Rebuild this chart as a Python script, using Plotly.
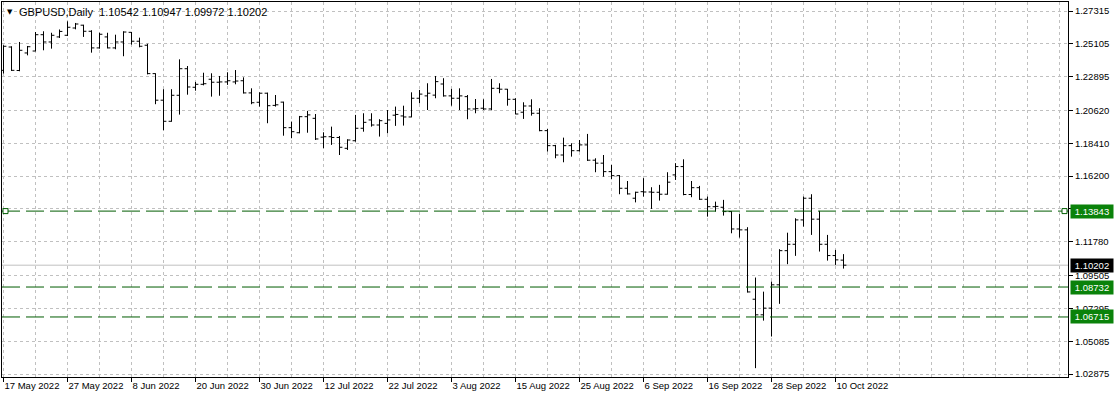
import pandas as pd
import plotly.graph_objects as go

# ---- data -------------------------------------------------------------
symbol_title = "GBPUSD,Daily"
dates = [d.strftime("%Y-%m-%d") for d in pd.bdate_range("2022-05-17", "2022-10-11")]

opens = [1.2332, 1.2489, 1.2331, 1.2449, 1.2462, 1.2572, 1.2523, 1.2557, 1.2568, 1.2617,
         1.2636, 1.2595, 1.2483, 1.2557, 1.2483, 1.2523, 1.2588, 1.2528, 1.2501, 1.2310,
         1.2131, 1.1989, 1.2164, 1.2343, 1.2218, 1.2238, 1.2272, 1.2252, 1.2254, 1.2254,
         1.2262, 1.2180, 1.2117, 1.2178, 1.2096, 1.2118, 1.1946, 1.1912, 1.2020, 1.2009,
         1.1882, 1.1885, 1.1880, 1.1807, 1.1858, 1.1942, 1.1998, 1.1964, 1.1975, 1.2030,
         1.2025, 1.2018, 1.2144, 1.2160, 1.2165, 1.2240, 1.2160, 1.2144, 1.2155, 1.2072,
         1.2077, 1.2072, 1.2211, 1.2205, 1.2137, 1.2050, 1.2092, 1.2043, 1.1926, 1.1825,
         1.1762, 1.1825, 1.1791, 1.1830, 1.1727, 1.1707, 1.1650, 1.1623, 1.1538, 1.1471,
         1.1515, 1.1513, 1.1511, 1.1498, 1.1628, 1.1684, 1.1496, 1.1542, 1.1464, 1.1414,
         1.1410, 1.1381, 1.1264, 1.1258, 1.0791, 1.0686, 1.0731, 1.0888, 1.1118, 1.1161,
         1.1325, 1.1471, 1.1330, 1.1161, 1.1085, 1.10542]
highs = [1.2501, 1.2494, 1.2523, 1.2496, 1.2590, 1.2595, 1.2585, 1.2607, 1.2662, 1.2651,
         1.2639, 1.2602, 1.2585, 1.2585, 1.2572, 1.2595, 1.2590, 1.2552, 1.2511, 1.2312,
         1.2205, 1.2205, 1.2406, 1.2361, 1.2254, 1.2316, 1.2312, 1.2294, 1.2319, 1.2334,
         1.2285, 1.2211, 1.2184, 1.2182, 1.2166, 1.2121, 1.1987, 1.2025, 1.2059, 1.2038,
         1.1915, 1.1953, 1.1890, 1.1868, 1.2032, 1.2043, 1.2043, 1.2003, 1.2065, 1.2088,
         1.2094, 1.2184, 1.2200, 1.2245, 1.2294, 1.2279, 1.2207, 1.2211, 1.2166, 1.2139,
         1.2137, 1.2274, 1.2245, 1.2207, 1.2144, 1.2117, 1.2137, 1.2077, 1.1937, 1.1830,
         1.1879, 1.1841, 1.1863, 1.1904, 1.1740, 1.1762, 1.1695, 1.1627, 1.1587, 1.1515,
         1.1606, 1.1545, 1.1561, 1.1646, 1.1707, 1.1733, 1.1587, 1.1554, 1.1482, 1.1448,
         1.1460, 1.1384, 1.1365, 1.1276, 1.0937, 1.0842, 1.0910, 1.1128, 1.1239, 1.1336,
         1.1482, 1.1498, 1.1386, 1.1224, 1.1123, 1.10947]
lows = [1.2310, 1.2328, 1.2326, 1.2433, 1.2460, 1.2467, 1.2478, 1.2550, 1.2563, 1.2608,
        1.2557, 1.2451, 1.2478, 1.2480, 1.2474, 1.2427, 1.2505, 1.2487, 1.2305, 1.2104,
        1.1929, 1.1986, 1.2034, 1.2168, 1.2195, 1.2231, 1.2155, 1.2161, 1.2234, 1.2238,
        1.2176, 1.2104, 1.2088, 1.1976, 1.2088, 1.1892, 1.1875, 1.1908, 1.1912, 1.1863,
        1.1808, 1.1830, 1.1762, 1.1796, 1.1852, 1.1919, 1.1953, 1.1886, 1.1908, 1.1958,
        1.1960, 1.2016, 1.2110, 1.2065, 1.2144, 1.2155, 1.2094, 1.2065, 1.2003, 1.2043,
        1.2065, 1.2063, 1.2178, 1.2094, 1.2036, 1.2005, 1.2027, 1.1922, 1.1785, 1.1740,
        1.1713, 1.1751, 1.1785, 1.1722, 1.1646, 1.1616, 1.1599, 1.1498, 1.1496, 1.1443,
        1.1482, 1.1399, 1.1455, 1.1495, 1.1594, 1.1491, 1.1478, 1.1460, 1.1347, 1.1381,
        1.1354, 1.1235, 1.1206, 1.0836, 1.0327, 1.0647, 1.0540, 1.0760, 1.1027, 1.1083,
        1.1280, 1.1224, 1.1112, 1.1051, 1.1022, 1.09972]
closes = [1.2494, 1.2332, 1.2467, 1.2491, 1.2572, 1.2523, 1.2568, 1.2594, 1.2622, 1.2644,
          1.2595, 1.2483, 1.2575, 1.2483, 1.2523, 1.2590, 1.2528, 1.2494, 1.2310, 1.2131,
          1.1989, 1.2164, 1.2343, 1.2220, 1.2238, 1.2242, 1.2252, 1.2254, 1.2262, 1.2260,
          1.2180, 1.2114, 1.2178, 1.2094, 1.2100, 1.1946, 1.1919, 1.2020, 1.2032, 1.1870,
          1.1885, 1.1880, 1.1814, 1.1863, 1.1942, 1.1982, 1.1964, 1.1993, 1.1998, 1.2035,
          1.2018, 1.2144, 1.2172, 1.2178, 1.2256, 1.2160, 1.2144, 1.2160, 1.2072, 1.2074,
          1.2072, 1.2211, 1.2205, 1.2137, 1.2038, 1.2092, 1.2043, 1.1926, 1.1825, 1.1762,
          1.1825, 1.1791, 1.1830, 1.1727, 1.1707, 1.1650, 1.1623, 1.1538, 1.1500, 1.1511,
          1.1513, 1.1511, 1.1498, 1.1579, 1.1684, 1.1496, 1.1542, 1.1464, 1.1414, 1.1416,
          1.1381, 1.1264, 1.1258, 1.0840, 1.0686, 1.0731, 1.0888, 1.1118, 1.1161, 1.1325,
          1.1471, 1.1330, 1.1161, 1.1085, 1.1056, 1.10202]

tick_dates = ["2022-05-17", "2022-05-27", "2022-06-08", "2022-06-20", "2022-06-30",
              "2022-07-12", "2022-07-22", "2022-08-03", "2022-08-15", "2022-08-25",
              "2022-09-06", "2022-09-16", "2022-09-28", "2022-10-10"]
tick_labels = ["17 May 2022", "27 May 2022", "8 Jun 2022", "20 Jun 2022", "30 Jun 2022",
               "12 Jul 2022", "22 Jul 2022", "3 Aug 2022", "15 Aug 2022", "25 Aug 2022",
               "6 Sep 2022", "16 Sep 2022", "28 Sep 2022", "10 Oct 2022"]
price_ticks = [1.27315, 1.25105, 1.22895, 1.20620, 1.18410, 1.16200, 1.13990,
               1.11780, 1.09505, 1.07295, 1.05085, 1.02875]
price_tick_labels = ["1.27315", "1.25105", "1.22895", "1.20620", "1.18410", "1.16200", "",
                     "1.11780", "1.09505", "1.07295", "1.05085", "1.02875"]
level_lines = [1.13843, 1.08732, 1.06715]
bid_price = 1.10202

# ---- styling ----------------------------------------------------------
FONT = "'Liberation Sans', Arial, sans-serif"
TICK_SIZE = 9.5
GRID = "#c0c0c0"
GREEN = "#005c00"
BOX_GREEN = "#0a820a"

x_idx = list(range(len(dates)))
tickvals = [dates.index(d) for d in tick_dates]

fig = go.Figure()
fig.add_trace(go.Ohlc(
    x=x_idx, open=opens, high=highs, low=lows, close=closes,
    increasing=dict(line=dict(color="black", width=1)),
    decreasing=dict(line=dict(color="black", width=1)),
    tickwidth=0.36, hoverinfo="skip", showlegend=False,
))

shapes = []
shapes.append(dict(type="line", xref="paper", x0=0, x1=1, yref="y", y0=bid_price, y1=bid_price,
                   line=dict(color="#c0c0c0", width=1), layer="below"))
for lv in level_lines:
    shapes.append(dict(type="line", xref="paper", x0=0, x1=1, yref="y", y0=lv, y1=lv,
                       line=dict(color=GREEN, width=1, dash="18px,6px"), layer="above"))
for xa in (0.0, 1.0):
    shapes.append(dict(type="rect", xref="paper", xsizemode="pixel", xanchor=xa,
                       x0=(1 if xa == 0 else -6), x1=(6 if xa == 0 else -1),
                       yref="y", ysizemode="pixel", yanchor=level_lines[0], y0=-2.5, y1=2.5,
                       line=dict(color=GREEN, width=1), fillcolor="white"))

annotations = []
for lv in level_lines:
    annotations.append(dict(xref="paper", x=1, xanchor="left", xshift=2, yref="y", y=lv,
                            text=f"{lv:.5f}", showarrow=False, bgcolor=BOX_GREEN, borderpad=1,
                            width=40, align="center",
                            font=dict(family=FONT, size=TICK_SIZE, color="white")))
annotations.append(dict(xref="paper", x=1, xanchor="left", xshift=2, yref="y", y=bid_price,
                        text=f"{bid_price:.5f}", showarrow=False, bgcolor="black", borderpad=1,
                        width=40, align="center",
                        font=dict(family=FONT, size=TICK_SIZE, color="white")))
annotations.append(dict(xref="paper", x=0, xanchor="left", xshift=3, yref="paper", y=1,
                        yanchor="top", yshift=-4, text="▼", showarrow=False,
                        font=dict(family="DejaVu Sans", size=7, color="black")))
annotations.append(dict(xref="paper", x=0, xanchor="left", xshift=15, yref="paper", y=1,
                        yanchor="top", yshift=-2,
                        text=f"{symbol_title}  {opens[-1]:.5f} {highs[-1]:.5f} {lows[-1]:.5f} {closes[-1]:.5f}",
                        showarrow=False, font=dict(family=FONT, size=11, color="black")))

fig.update_layout(
    width=1114, height=398,
    margin=dict(l=2, r=46, t=2, b=21, autoexpand=False),
    paper_bgcolor="white", plot_bgcolor="white",
    showlegend=False,
    shapes=shapes, annotations=annotations,
    xaxis=dict(
        range=[-0.1875, 133.0625], rangeslider=dict(visible=False),
        tickmode="array", tickvals=tickvals, ticktext=tick_labels, tickangle=0,
        ticks="outside", ticklen=4, tickcolor="black", ticklabelposition="outside right",
        tickfont=dict(family=FONT, size=TICK_SIZE, color="black"), automargin=False,
        showgrid=True, gridcolor=GRID, griddash="3px,3px", gridwidth=1,
        minor=dict(tickmode="linear", tick0=0, dtick=4, showgrid=True,
                   gridcolor=GRID, griddash="3px,3px", gridwidth=1, ticks=""),
        showline=True, mirror=True, linecolor="black", linewidth=1,
        zeroline=False, fixedrange=True,
    ),
    yaxis=dict(
        range=[1.02674, 1.27921], side="right",
        tickmode="array", tickvals=price_ticks, ticktext=price_tick_labels,
        ticks="outside", ticklen=4, tickcolor="black", automargin=False,
        tickfont=dict(family=FONT, size=TICK_SIZE, color="black"),
        showgrid=True, gridcolor=GRID, griddash="3px,3px", gridwidth=1,
        showline=True, mirror=True, linecolor="black", linewidth=1,
        zeroline=False, fixedrange=True,
    ),
)

fig.write_html("out.html")
